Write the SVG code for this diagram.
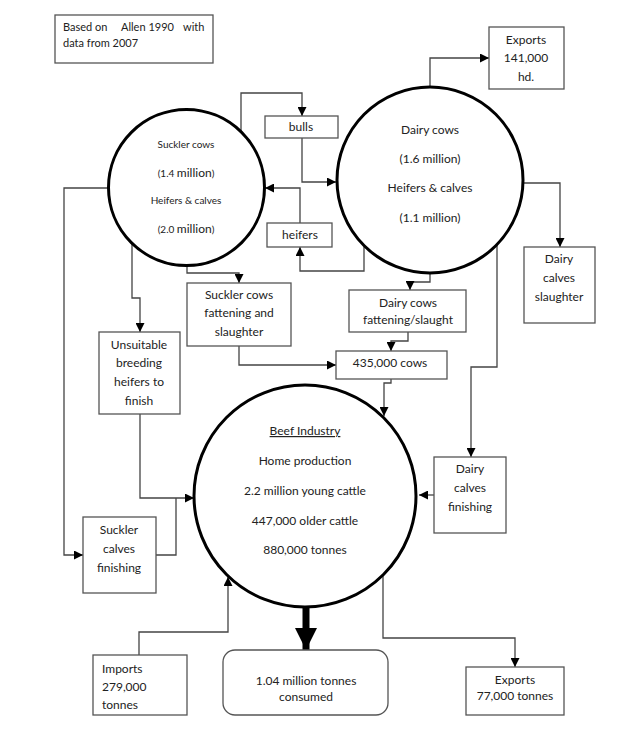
<svg xmlns="http://www.w3.org/2000/svg" width="636" height="741" viewBox="0 0 636 741">
<style>
.box{fill:#fff;stroke:#555;stroke-width:1.3}
.circ{fill:none;stroke:#000;stroke-width:3}
.ln{fill:none;stroke:#444;stroke-width:1.3}
text{font-family:Lato,"Open Sans","Liberation Sans",sans-serif;fill:#222;text-anchor:middle;font-size:12px}
.s{font-size:10px}
.n{font-size:11px}
.l{text-anchor:start}
</style>
<defs>
<marker id="a" viewBox="0 0 10 10" refX="10" refY="5" markerWidth="9" markerHeight="9" markerUnits="userSpaceOnUse" orient="auto"><path d="M0,0L10,5L0,10z" fill="#000"/></marker>
<marker id="big" viewBox="0 0 10 10" refX="10" refY="5" markerWidth="3.2" markerHeight="3.2" orient="auto"><path d="M0,0L10,5L0,10z" fill="#000"/></marker>
</defs>
<rect width="636" height="741" fill="#fff"/>
<g id="note">
<rect class="box" x="55" y="15" width="158" height="48"/>
<text class="n l" x="63" y="31">Based on</text>
<text class="n l" x="121" y="31">Allen 1990</text>
<text class="n l" x="183" y="31">with</text>
<text class="n l" x="63" y="47">data from 2007</text>
</g>
<g id="connectors">
<path class="ln" d="M430,88V58H489" marker-end="url(#a)"/>
<path class="ln" d="M241,132V93H302V116" marker-end="url(#a)"/>
<path class="ln" d="M302,138V182H336" marker-end="url(#a)"/>
<path class="ln" d="M364,247V271H300V247" marker-end="url(#a)"/>
<path class="ln" d="M300,223V188H265" marker-end="url(#a)"/>
<path class="ln" d="M187,265V273H239V283" marker-end="url(#a)"/>
<path class="ln" d="M132,243V298H140V332" marker-end="url(#a)"/>
<path class="ln" d="M140,414V498H194" marker-end="url(#a)"/>
<path class="ln" d="M108,188H64V555H83" marker-end="url(#a)"/>
<path class="ln" d="M156,555H176V498"/>
<path class="ln" d="M430,272V282H410V290" marker-end="url(#a)"/>
<path class="ln" d="M408,332V341H391V351" marker-end="url(#a)"/>
<path class="ln" d="M239,346V365H336" marker-end="url(#a)"/>
<path class="ln" d="M391,379V383H384V416" marker-end="url(#a)"/>
<path class="ln" d="M523,183H560V247" marker-end="url(#a)"/>
<path class="ln" d="M497,245V367H471V457" marker-end="url(#a)"/>
<path class="ln" d="M434,495H419" marker-end="url(#a)"/>
<path class="ln" d="M139,655V632H228V577" marker-end="url(#a)"/>
<path class="ln" d="M383,576V638H515V667" marker-end="url(#a)"/>
<path d="M306,607V650" stroke="#000" stroke-width="7" fill="none" marker-end="url(#big)"/>
</g>
<g id="suckler">
<circle class="circ" cx="186.5" cy="187.5" r="78"/>
<text class="s" x="186" y="148">Suckler cows</text>
<text class="s" x="186" y="177">(1.4 <tspan font-size="12">million</tspan>)</text>
<text class="s" x="186" y="204">Heifers &amp;  calves</text>
<text class="s" x="186" y="233">(2.0 <tspan font-size="12">million</tspan>)</text>
</g>
<g id="dairy">
<circle class="circ" cx="430" cy="180" r="93"/>
<text x="430" y="134">Dairy cows</text>
<text x="430" y="163">(1.6 million)</text>
<text x="430" y="192">Heifers &amp;  calves</text>
<text x="430" y="222">(1.1 million)</text>
</g>
<g id="exports1">
<rect class="box" x="489" y="27" width="75" height="62"/>
<text x="526" y="44">Exports</text>
<text x="526" y="62">141,000</text>
<text x="526" y="81">hd.</text>
</g>
<g id="bulls">
<rect class="box" x="265" y="116" width="73" height="22"/>
<text x="301" y="131">bulls</text>
</g>
<g id="heifers">
<rect class="box" x="267" y="223" width="65" height="24"/>
<text x="300" y="239">heifers</text>
</g>
<g id="sucklerFattening">
<rect class="box" x="187" y="283" width="104" height="63"/>
<text x="239" y="299">Suckler cows</text>
<text x="239" y="317">fattening and</text>
<text x="239" y="336">slaughter</text>
</g>
<g id="unsuitable">
<rect class="box" x="99" y="332" width="81" height="82"/>
<text x="139" y="349">Unsuitable</text>
<text x="139" y="367">breeding</text>
<text x="139" y="386">heifers to</text>
<text x="139" y="405">finish</text>
</g>
<g id="dairyFattening">
<rect class="box" x="349" y="290" width="117" height="42"/>
<text x="408" y="307">Dairy cows</text>
<text x="408" y="324">fattening/slaught</text>
</g>
<g id="cows435">
<rect class="box" x="336" y="351" width="111" height="28"/>
<text x="390" y="367">435,000 cows</text>
</g>
<g id="dairySlaughter">
<rect class="box" x="524" y="247" width="71" height="76"/>
<text x="559" y="263">Dairy</text>
<text x="559" y="282">calves</text>
<text x="559" y="301">slaughter</text>
</g>
<g id="beef">
<circle class="circ" cx="305" cy="496" r="111"/>
<text x="305" y="435" text-decoration="underline">Beef Industry</text>
<text x="305" y="465">Home production</text>
<text x="305" y="495">2.2 million young cattle</text>
<text x="305" y="525">447,000 older cattle</text>
<text x="305" y="554">880,000 tonnes</text>
</g>
<g id="dairyFinishing">
<rect class="box" x="434" y="457" width="72" height="76"/>
<text x="470" y="473">Dairy</text>
<text x="470" y="492">calves</text>
<text x="470" y="511">finishing</text>
</g>
<g id="sucklerFinishing">
<rect class="box" x="83" y="517" width="73" height="76"/>
<text x="119" y="534">Suckler</text>
<text x="119" y="553">calves</text>
<text x="119" y="572">finishing</text>
</g>
<g id="imports">
<rect class="box" x="93" y="655" width="94" height="60"/>
<text class="l" x="102" y="673">Imports</text>
<text class="l" x="102" y="691">279,000</text>
<text class="l" x="102" y="709">tonnes</text>
</g>
<g id="consumed">
<rect class="box" x="223" y="650" width="165" height="65" rx="12"/>
<text x="306" y="685">1.04 million tonnes</text>
<text x="306" y="701">consumed</text>
</g>
<g id="exports2">
<rect class="box" x="466" y="667" width="98" height="48"/>
<text x="515" y="684">Exports</text>
<text x="515" y="700">77,000 tonnes</text>
</g>
</svg>
